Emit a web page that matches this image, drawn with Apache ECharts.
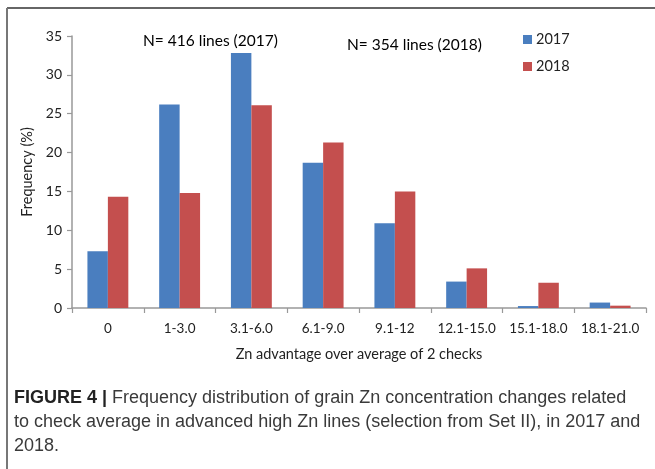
<!DOCTYPE html>
<html>
<head>
<meta charset="utf-8">
<script src="https://cdn.jsdelivr.net/npm/echarts@6/dist/echarts.min.js"></script>
<style>
  html, body { margin: 0; padding: 0; background: #fff; }
  #chart { width: 655px; height: 469px; }
</style>
</head>
<body>
<div id="chart"></div>
<script>
const categories = ['0', '1-3.0', '3.1-6.0', '6.1-9.0', '9.1-12', '12.1-15.0', '15.1-18.0', '18.1-21.0'];
const values2017 = [7.3, 26.2, 32.8, 18.7, 10.9, 3.4, 0.25, 0.7];
const values2018 = [14.3, 14.8, 26.1, 21.3, 15.0, 5.1, 3.25, 0.3];
const seriesNames = ['2017', '2018'];
const yTicks = { min: 0, max: 35, interval: 5 };
const notes = ['N= 416 lines (2017)', 'N= 354 lines (2018)'];
const captionLines = [
  'Frequency distribution of grain Zn concentration changes related',
  'to check average in advanced high Zn lines (selection from Set II), in 2017 and',
  '2018.'
];

const chartFont = 'Lato';
const capFont = '"Liberation Sans", Arial, sans-serif';
const chart = echarts.init(document.getElementById('chart'), null, { renderer: 'canvas' });

chart.setOption({
  animation: false,
  backgroundColor: '#ffffff',
  grid: { left: 72, right: 9, top: 36, bottom: 161, containLabel: false },
  legend: {
    orient: 'vertical',
    left: 518, top: 27,
    itemWidth: 9, itemHeight: 9, itemGap: 12,
    icon: 'rect',
    textStyle: { fontFamily: chartFont, fontSize: 14.5, color: '#222', padding: [0, 0, 0, -1] },
    data: seriesNames
  },
  xAxis: {
    type: 'category',
    data: categories,
    axisLine: { lineStyle: { color: '#999', width: 1.5 } },
    axisTick: { show: true, length: 5, lineStyle: { color: '#999', width: 1.2 } },
    axisLabel: { interval: 0, fontFamily: chartFont, fontSize: 13.5, color: '#222', margin: 14 },
    name: 'Zn advantage over average of 2 checks',
    nameLocation: 'middle',
    nameGap: 39,
    nameTextStyle: { fontFamily: chartFont, fontSize: 14.5, color: '#222' }
  },
  yAxis: {
    type: 'value',
    min: yTicks.min, max: yTicks.max, interval: yTicks.interval,
    axisLine: { show: true, lineStyle: { color: '#999', width: 1.5 } },
    axisTick: { show: true, length: 5, lineStyle: { color: '#999', width: 1.2 } },
    splitLine: { show: false },
    axisLabel: { fontFamily: chartFont, fontSize: 14, color: '#222', margin: 10 },
    name: 'Frequency (%)',
    nameLocation: 'middle',
    nameGap: 37,
    nameTextStyle: { fontFamily: chartFont, fontSize: 14.5, color: '#222' }
  },
  series: [
    {
      name: seriesNames[0], type: 'bar', data: values2017,
      barGap: '0%', barCategoryGap: '43%',
      itemStyle: { color: '#4A7EBF' }
    },
    {
      name: seriesNames[1], type: 'bar', data: values2018,
      barGap: '0%', barCategoryGap: '43%',
      itemStyle: { color: '#C44F4E' }
    }
  ],
  graphic: [
    { type: 'line', shape: { x1: 7, y1: 8, x2: 655, y2: 8 }, style: { stroke: '#666', lineWidth: 2 } },
    { type: 'line', shape: { x1: 7, y1: 8, x2: 7, y2: 469 }, style: { stroke: '#777', lineWidth: 2 } },
    { type: 'text', left: 143, top: 33, style: { text: notes[0], font: '15.5px Lato', fill: '#000' } },
    { type: 'text', left: 347, top: 37, style: { text: notes[1], font: '15.5px Lato', fill: '#000' } },
    { type: 'text', left: 14, top: 389, style: {
        text: '{b|FIGURE 4 |} ' + captionLines[0],
        rich: { b: { fontFamily: capFont, fontWeight: 'bold', fontSize: 18, fill: '#222' } },
        font: '18px ' + capFont, fill: '#3a3a3a' } },
    { type: 'text', left: 14, top: 413, style: { text: captionLines[1], font: '18px ' + capFont, fill: '#3a3a3a' } },
    { type: 'text', left: 14, top: 437, style: { text: captionLines[2], font: '18px ' + capFont, fill: '#3a3a3a' } }
  ]
});
</script>
</body>
</html>
